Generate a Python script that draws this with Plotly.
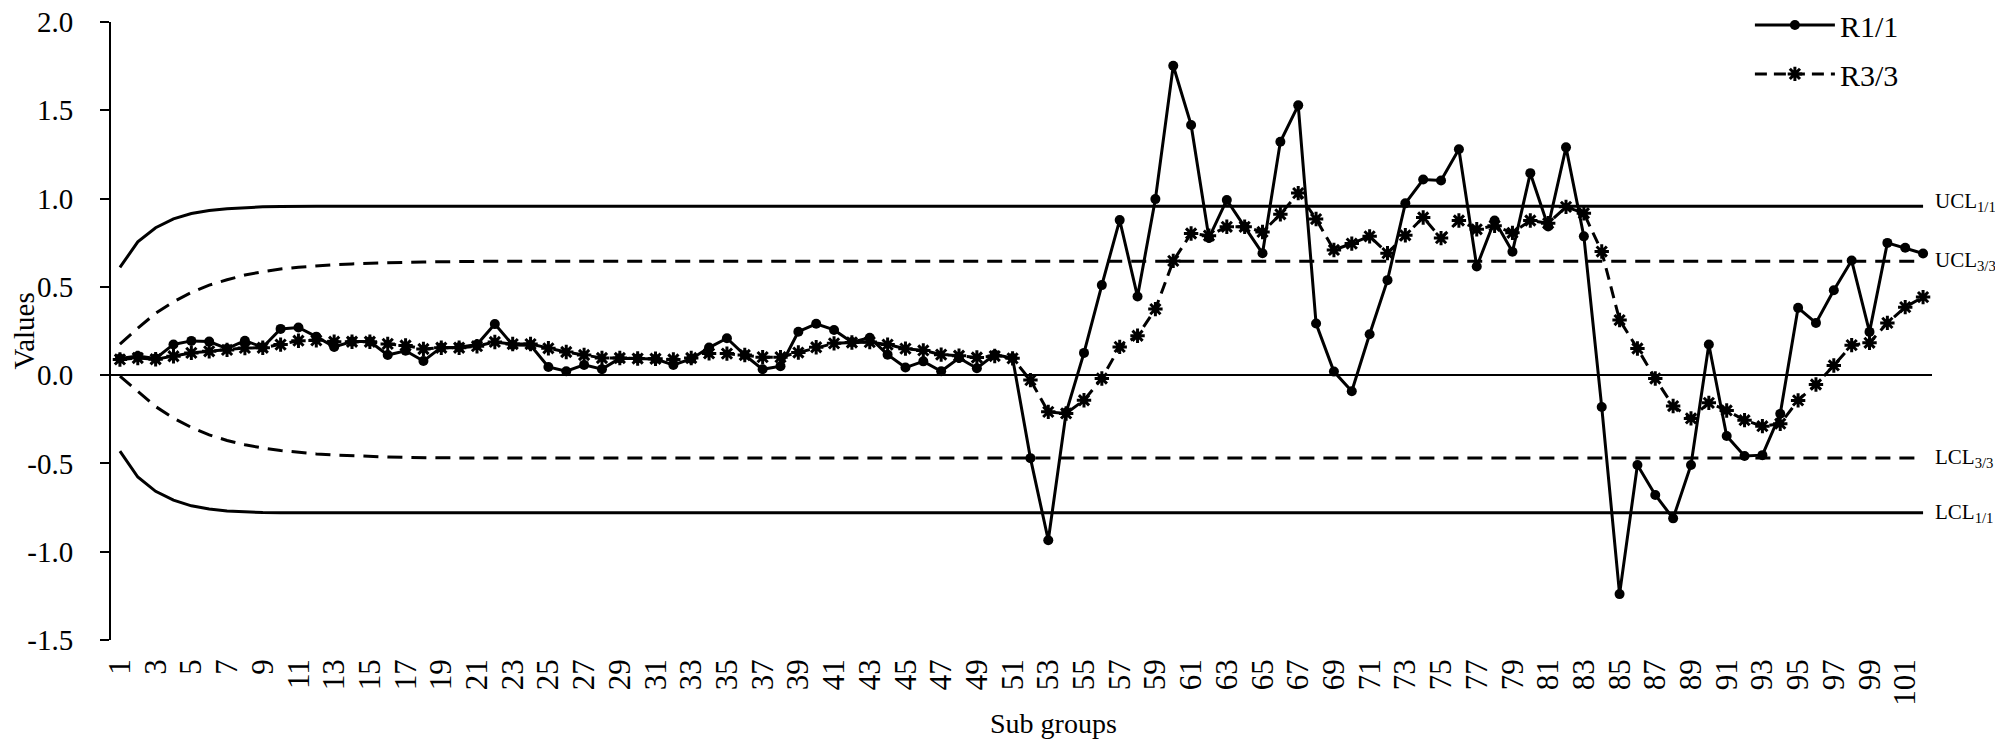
import plotly.graph_objects as go

# ---------------- data ----------------
subgroups = list(range(1, 103))

r11 = [0.094, 0.108, 0.094, 0.174, 0.194, 0.190, 0.150, 0.195, 0.158, 0.262,
       0.270, 0.218, 0.160, 0.190, 0.190, 0.114, 0.138, 0.080, 0.157, 0.158,
       0.173, 0.289, 0.171, 0.169, 0.046, 0.022, 0.058, 0.034, 0.095, 0.094,
       0.091, 0.058, 0.092, 0.156, 0.209, 0.114, 0.033, 0.051, 0.246, 0.291,
       0.256, 0.187, 0.212, 0.116, 0.043, 0.078, 0.022, 0.097, 0.039, 0.116,
       0.097, -0.470, -0.935, -0.212, 0.126, 0.510, 0.878, 0.445, 0.997, 1.752,
       1.417, 0.777, 0.992, 0.840, 0.690, 1.322, 1.528, 0.292, 0.020, -0.091,
       0.232, 0.538, 0.973, 1.108, 1.102, 1.279, 0.615, 0.876, 0.699, 1.144,
       0.842, 1.290, 0.786, -0.180, -1.240, -0.509, -0.679, -0.811, -0.509, 0.174,
       -0.345, -0.458, -0.453, -0.219, 0.381, 0.296, 0.481, 0.649, 0.245, 0.749,
       0.721, 0.689]

r33 = [0.089, 0.097, 0.090, 0.107, 0.126, 0.135, 0.143, 0.154, 0.155, 0.173,
       0.195, 0.197, 0.189, 0.189, 0.189, 0.177, 0.168, 0.148, 0.155, 0.155,
       0.164, 0.188, 0.176, 0.176, 0.152, 0.131, 0.114, 0.097, 0.097, 0.094,
       0.093, 0.089, 0.097, 0.123, 0.122, 0.114, 0.102, 0.102, 0.128, 0.158,
       0.180, 0.185, 0.187, 0.173, 0.150, 0.140, 0.116, 0.110, 0.100, 0.108,
       0.095, -0.028, -0.208, -0.217, -0.142, -0.019, 0.160, 0.223, 0.374, 0.647,
       0.802, 0.790, 0.840, 0.840, 0.811, 0.911, 1.031, 0.884, 0.709, 0.745,
       0.786, 0.691, 0.792, 0.893, 0.776, 0.876, 0.826, 0.846, 0.806, 0.876,
       0.860, 0.953, 0.917, 0.700, 0.312, 0.151, -0.019, -0.175, -0.245, -0.157,
       -0.200, -0.255, -0.289, -0.275, -0.143, -0.053, 0.055, 0.170, 0.183, 0.296,
       0.385, 0.442]

# control limits: values of the first subgroups, then the steady value at the last subgroup
ucl11_start = [0.610, 0.755, 0.835, 0.885, 0.915, 0.932, 0.943, 0.949, 0.953, 0.955, 0.956, 0.957]
ucl11_steady = 0.957
lcl11_start = [-0.430, -0.577, -0.658, -0.708, -0.740, -0.758, -0.769, -0.775, -0.778, -0.779, -0.780]
lcl11_steady = -0.780
ucl33_start = [0.176, 0.266, 0.350, 0.416, 0.468, 0.510, 0.540, 0.567, 0.586, 0.601, 0.611,
               0.619, 0.625, 0.630, 0.634, 0.637, 0.639, 0.641, 0.642, 0.643, 0.644, 0.645]
ucl33_steady = 0.645
lcl33_start = [-0.005, -0.094, -0.178, -0.244, -0.296, -0.338, -0.370, -0.394, -0.413, -0.427,
               -0.438, -0.446, -0.452, -0.457, -0.461, -0.464, -0.466, -0.467, -0.468, -0.469]
lcl33_steady = -0.469

x_tickvals = list(range(1, 102, 2))
x_ticktext = [str(v) for v in x_tickvals]
y_tickvals = [-1.5, -1.0, -0.5, 0.0, 0.5, 1.0, 1.5, 2.0]
y_ticktext = ["-1.5", "-1.0", "-0.5", "0.0", "0.5", "1.0", "1.5", "2.0"]

limit_labels = [("UCL<sub>1/1</sub>", ucl11_steady, 4),
                ("UCL<sub>3/3</sub>", ucl33_steady, 0),
                ("LCL<sub>3/3</sub>", lcl33_steady, 0),
                ("LCL<sub>1/1</sub>", lcl11_steady, 0)]

FONT = "Liberation Serif, Times New Roman, serif"
BLACK = "#000000"

fig = go.Figure()


def limit_trace(start, steady, dash):
    xs = subgroups[:len(start)] + [subgroups[-1]]
    ys = start + [steady]
    return go.Scatter(x=xs, y=ys, mode="lines", showlegend=False, hoverinfo="skip",
                      line=dict(color=BLACK, width=3, dash=dash))


fig.add_trace(limit_trace(ucl11_start, ucl11_steady, "solid"))
fig.add_trace(limit_trace(lcl11_start, lcl11_steady, "solid"))
fig.add_trace(limit_trace(ucl33_start, ucl33_steady, "15px,9px"))
fig.add_trace(limit_trace(lcl33_start, lcl33_steady, "15px,9px"))

fig.add_trace(go.Scatter(
    x=subgroups, y=r33, mode="lines+markers", name="R3/3", legend="legend2",
    line=dict(color=BLACK, width=3, dash="12px,7px"),
    marker=dict(symbol="asterisk-open", size=12, color=BLACK,
                line=dict(color=BLACK, width=3))))

fig.add_trace(go.Scatter(
    x=subgroups, y=r11, mode="lines+markers", name="R1/1", legend="legend",
    line=dict(color=BLACK, width=3),
    marker=dict(symbol="circle", size=10, color=BLACK)))

annotations = []
for text, yv, ys in limit_labels:
    annotations.append(dict(x=1, xref="paper", y=yv, yref="y", text=text,
                            showarrow=False, xanchor="left", yanchor="middle",
                            xshift=1, yshift=ys,
                            font=dict(family=FONT, size=21, color=BLACK)))

annotations.append(dict(x=-0.048, xref="paper", y=0.5, yref="paper", text="Values",
                        textangle=-90, showarrow=False, xanchor="center", yanchor="middle",
                        font=dict(family=FONT, size=29, color=BLACK)))
annotations.append(dict(x=0.5175, xref="paper", y=-0.163, yref="paper", text="Sub groups",
                        showarrow=False, xanchor="center", yanchor="bottom",
                        font=dict(family=FONT, size=28, color=BLACK)))

fig.update_layout(
    width=2003, height=739,
    margin=dict(l=103, r=79, t=14, b=107, autoexpand=False),
    paper_bgcolor="white", plot_bgcolor="white",
    font=dict(family=FONT, size=29, color=BLACK),
    annotations=annotations,
    legend=dict(x=0.900, y=0.9951, xanchor="left", yanchor="middle",
                bgcolor="rgba(0,0,0,0)", itemwidth=80,
                font=dict(family=FONT, size=30, color=BLACK)),
    legend2=dict(x=0.900, y=0.916, xanchor="left", yanchor="middle",
                 bgcolor="rgba(0,0,0,0)", itemwidth=80,
                 font=dict(family=FONT, size=30, color=BLACK)),
    xaxis=dict(range=[0.5, 102.5], tickmode="array", tickvals=x_tickvals,
               ticktext=x_ticktext, tickangle=-90, showgrid=False, zeroline=False,
               showline=False, ticks="", ticklabelstandoff=12,
               tickfont=dict(family=FONT, size=31, color=BLACK)),
    yaxis=dict(range=[-1.5, 2.0], tickmode="array", tickvals=y_tickvals,
               ticktext=y_ticktext, showgrid=False, zeroline=True,
               zerolinecolor=BLACK, zerolinewidth=2,
               showline=True, linecolor=BLACK, linewidth=2,
               ticks="outside", ticklen=9, tickwidth=2, tickcolor=BLACK,
               ticklabelstandoff=21, ticklabeloverflow="allow",
               tickfont=dict(family=FONT, size=29, color=BLACK)),
)

fig.write_html("out.html")
